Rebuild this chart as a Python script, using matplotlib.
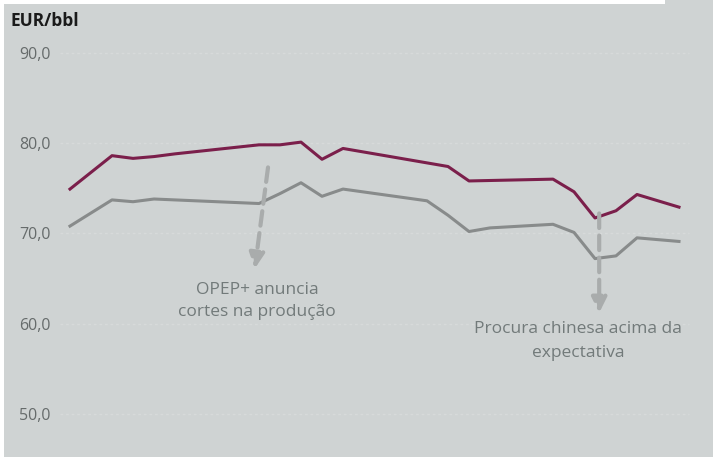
import matplotlib
matplotlib.use("Agg")
import matplotlib.pyplot as plt
from matplotlib.patches import Rectangle

# x = step index (no date labels shown on the original chart)
steps = [0, 2, 3, 4, 5, 9, 10, 11, 12, 13, 17, 18, 19, 20, 23, 24, 25, 26, 27, 29]
brent = [74.9, 78.6, 78.3, 78.5, 78.8, 79.8, 79.8, 80.1, 78.2, 79.4,
         77.8, 77.4, 75.8, 75.85, 76.0, 74.6, 71.7, 72.5, 74.3, 72.9]
other = [70.8, 73.7, 73.5, 73.8, 73.7, 73.3, 74.4, 75.6, 74.1, 74.9,
         73.6, 72.0, 70.2, 70.6, 71.0, 70.1, 67.2, 67.5, 69.5, 69.1]
yticks = [50, 60, 70, 80, 90]
ytick_labels = ["50,0", "60,0", "70,0", "80,0", "90,0"]

bg = "#cfd3d3"
W, H = 713, 459

fig = plt.figure(figsize=(W / 100, H / 100), dpi=100)
fig.patch.set_facecolor(bg)
# white margins of the screenshot
fig.patches.append(Rectangle((0, 1 - 4 / H), 665 / W, 4 / H, transform=fig.transFigure,
                             facecolor="white", edgecolor="none"))
fig.patches.append(Rectangle((0, 0), 4 / W, 1, transform=fig.transFigure,
                             facecolor="white", edgecolor="none"))
fig.patches.append(Rectangle((0, 0), 1, 2 / H, transform=fig.transFigure,
                             facecolor="white", edgecolor="none"))

ax = fig.add_axes([60 / W, (H - 440) / H, 640 / W, 400 / H])
ax.set_facecolor(bg)
for s in ax.spines.values():
    s.set_visible(False)

ax.set_xlim(-0.476, 30.0)
ax.set_ylim(47.11, 91.41)

for v in yticks:
    ax.plot([-0.476, 29.5], [v, v], color="#d7dada", lw=1, ls=(0, (2, 2)), zorder=1)

ax.plot(steps, other, color="#888b8b", lw=2.2, zorder=3)
ax.plot(steps, brent, color="#7b1f4b", lw=2.2, zorder=3)

ax.set_yticks(yticks)
ax.set_yticklabels(ytick_labels, fontsize=11.5, color="#666b6b", fontfamily="Open Sans")
ax.tick_params(axis="y", length=0, pad=7)
ax.set_xticks([])

arrow_col = "#a9acac"
ax.annotate("", xy=(8.8, 66.1), xytext=(9.43, 77.3),
            arrowprops=dict(arrowstyle="-|>,head_length=0.9,head_width=0.45", color=arrow_col,
                            lw=3, ls=(0, (3.5, 1.8)), shrinkA=0, shrinkB=0), zorder=4)
ax.text(8.9, 64.6, "OPEP+ anuncia\ncortes na produção", ha="center", va="top",
        fontsize=12.5, color="#727a7a", fontfamily="Open Sans", linespacing=1.5)

ax.annotate("", xy=(25.2, 61.2), xytext=(25.2, 72.2),
            arrowprops=dict(arrowstyle="-|>,head_length=0.9,head_width=0.45", color=arrow_col,
                            lw=3, ls=(0, (3.5, 1.8)), shrinkA=0, shrinkB=0), zorder=4)
ax.text(24.2, 60.3, "Procura chinesa acima da\nexpectativa", ha="center", va="top",
        fontsize=12.5, color="#727a7a", fontfamily="Open Sans", linespacing=1.7)

fig.text(11 / W, 1 - 21 / H, "EUR/bbl", ha="left", va="center", fontsize=12.5,
         fontweight="bold", color="#1a1a1a", fontfamily="Open Sans")

fig.savefig("out.png", dpi=100, facecolor=bg)
